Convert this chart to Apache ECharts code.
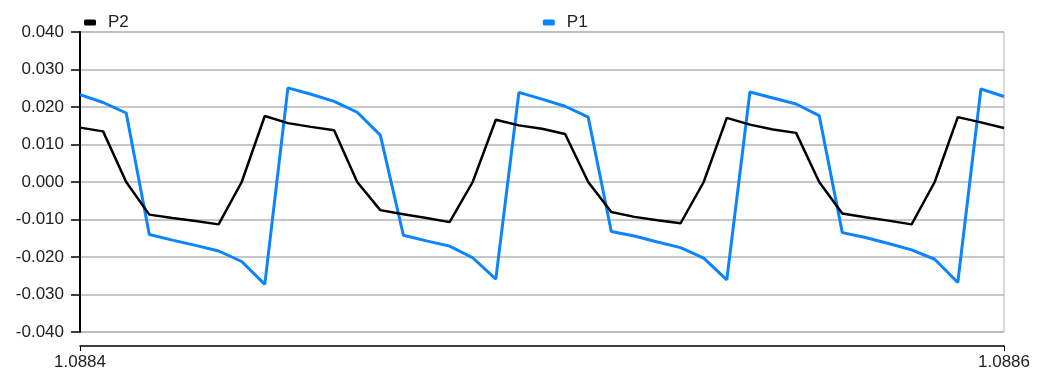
<!DOCTYPE html>
<html>
<head>
<meta charset="utf-8">
<script src="https://cdn.jsdelivr.net/npm/echarts@6/dist/echarts.min.js"></script>
<style>
  html, body { margin: 0; padding: 0; background: #fff; }
  #chart { width: 1039px; height: 371px; }
</style>
</head>
<body>
<div id="chart"></div>
<script>
// Sample positions along the x axis
const xValues = [
  1.088400, 1.088405, 1.088410, 1.088415, 1.088420, 1.088425, 1.088430, 1.088435, 1.088440, 1.088445,
  1.088450, 1.088455, 1.088460, 1.088465, 1.088470, 1.088475, 1.088480, 1.088485, 1.088490, 1.088495,
  1.088500, 1.088505, 1.088510, 1.088515, 1.088520, 1.088525, 1.088530, 1.088535, 1.088540, 1.088545,
  1.088550, 1.088555, 1.088560, 1.088565, 1.088570, 1.088575, 1.088580, 1.088585, 1.088590, 1.088595,
  1.088600
];

const p2Values = [
  0.0145, 0.0135, 0.0000, -0.0087, -0.0096, -0.0104, -0.0113, 0.0000, 0.0176, 0.0157,
  0.0147, 0.0138, 0.0000, -0.0075, -0.0086, -0.0096, -0.0107, 0.0000, 0.0166, 0.0151,
  0.0142, 0.0128, 0.0000, -0.0080, -0.0093, -0.0102, -0.0110, 0.0000, 0.0171, 0.0153,
  0.0140, 0.0131, 0.0000, -0.0084, -0.0094, -0.0103, -0.0113, 0.0000, 0.0173, 0.0159,
  0.0144
];

const p1Values = [
  0.0233, 0.0212, 0.0184, -0.0140, -0.0155, -0.0169, -0.0184, -0.0212, -0.0273, 0.0251,
  0.0234, 0.0215, 0.0186, 0.0125, -0.0142, -0.0157, -0.0171, -0.0202, -0.0259, 0.0239,
  0.0221, 0.0202, 0.0173, -0.0132, -0.0144, -0.0160, -0.0175, -0.0203, -0.0261, 0.0240,
  0.0224, 0.0208, 0.0177, -0.0135, -0.0148, -0.0164, -0.0181, -0.0206, -0.0268, 0.0248,
  0.0228
];

const xMin = 1.0884, xMax = 1.0886;
const yTicks = { min: -0.04, max: 0.04, step: 0.01 };

const pairs = (ys) => xValues.map((x, i) => [x, ys[i]]);

const textStyle = { fontFamily: 'Liberation Sans, Arial, sans-serif', fontSize: 17, color: '#222' };

const chart = echarts.init(document.getElementById('chart'), null, { renderer: 'canvas' });
chart.setOption({
  animation: false,
  backgroundColor: '#fff',
  textStyle: textStyle,
  legend: {
    top: 9,
    left: 79,
    itemGap: 414,
    itemWidth: 12,
    itemHeight: 6,
    icon: 'roundRect',
    textStyle: { ...textStyle, padding: [0, 0, 0, 7] },
    data: ['P2', 'P1']
  },
  grid: {
    left: 80, right: 35, top: 32, bottom: 38,
    show: true, borderColor: '#b4b4b4', borderWidth: 1
  },
  xAxis: {
    type: 'value',
    min: xMin, max: xMax, interval: 0.0002,
    offset: 14,
    axisLine: { show: true, onZero: false, lineStyle: { color: '#000', width: 1.5 } },
    axisTick: { show: true, length: 5, lineStyle: { color: '#000' } },
    splitLine: { show: false },
    axisLabel: {
      ...textStyle, margin: 8,
      formatter: (v) => v.toFixed(4)
    }
  },
  yAxis: {
    type: 'value',
    min: yTicks.min, max: yTicks.max, interval: yTicks.step,
    axisLine: { show: true, lineStyle: { color: '#000', width: 2 } },
    axisTick: { show: true, length: 9, lineStyle: { color: '#000', width: 1.5 } },
    splitLine: { show: true, lineStyle: { color: '#b4b4b4', width: 1.5 } },
    axisLabel: {
      ...textStyle, margin: 16,
      formatter: (v) => v.toFixed(3)
    }
  },
  series: [
    {
      name: 'P2', type: 'line', data: pairs(p2Values),
      symbol: 'none', color: '#000',
      lineStyle: { width: 2.5, color: '#000' }, z: 3
    },
    {
      name: 'P1', type: 'line', data: pairs(p1Values),
      symbol: 'none', color: '#0a84ff',
      lineStyle: { width: 3, color: '#0a84ff' }, z: 2
    }
  ]
});
</script>
</body>
</html>
